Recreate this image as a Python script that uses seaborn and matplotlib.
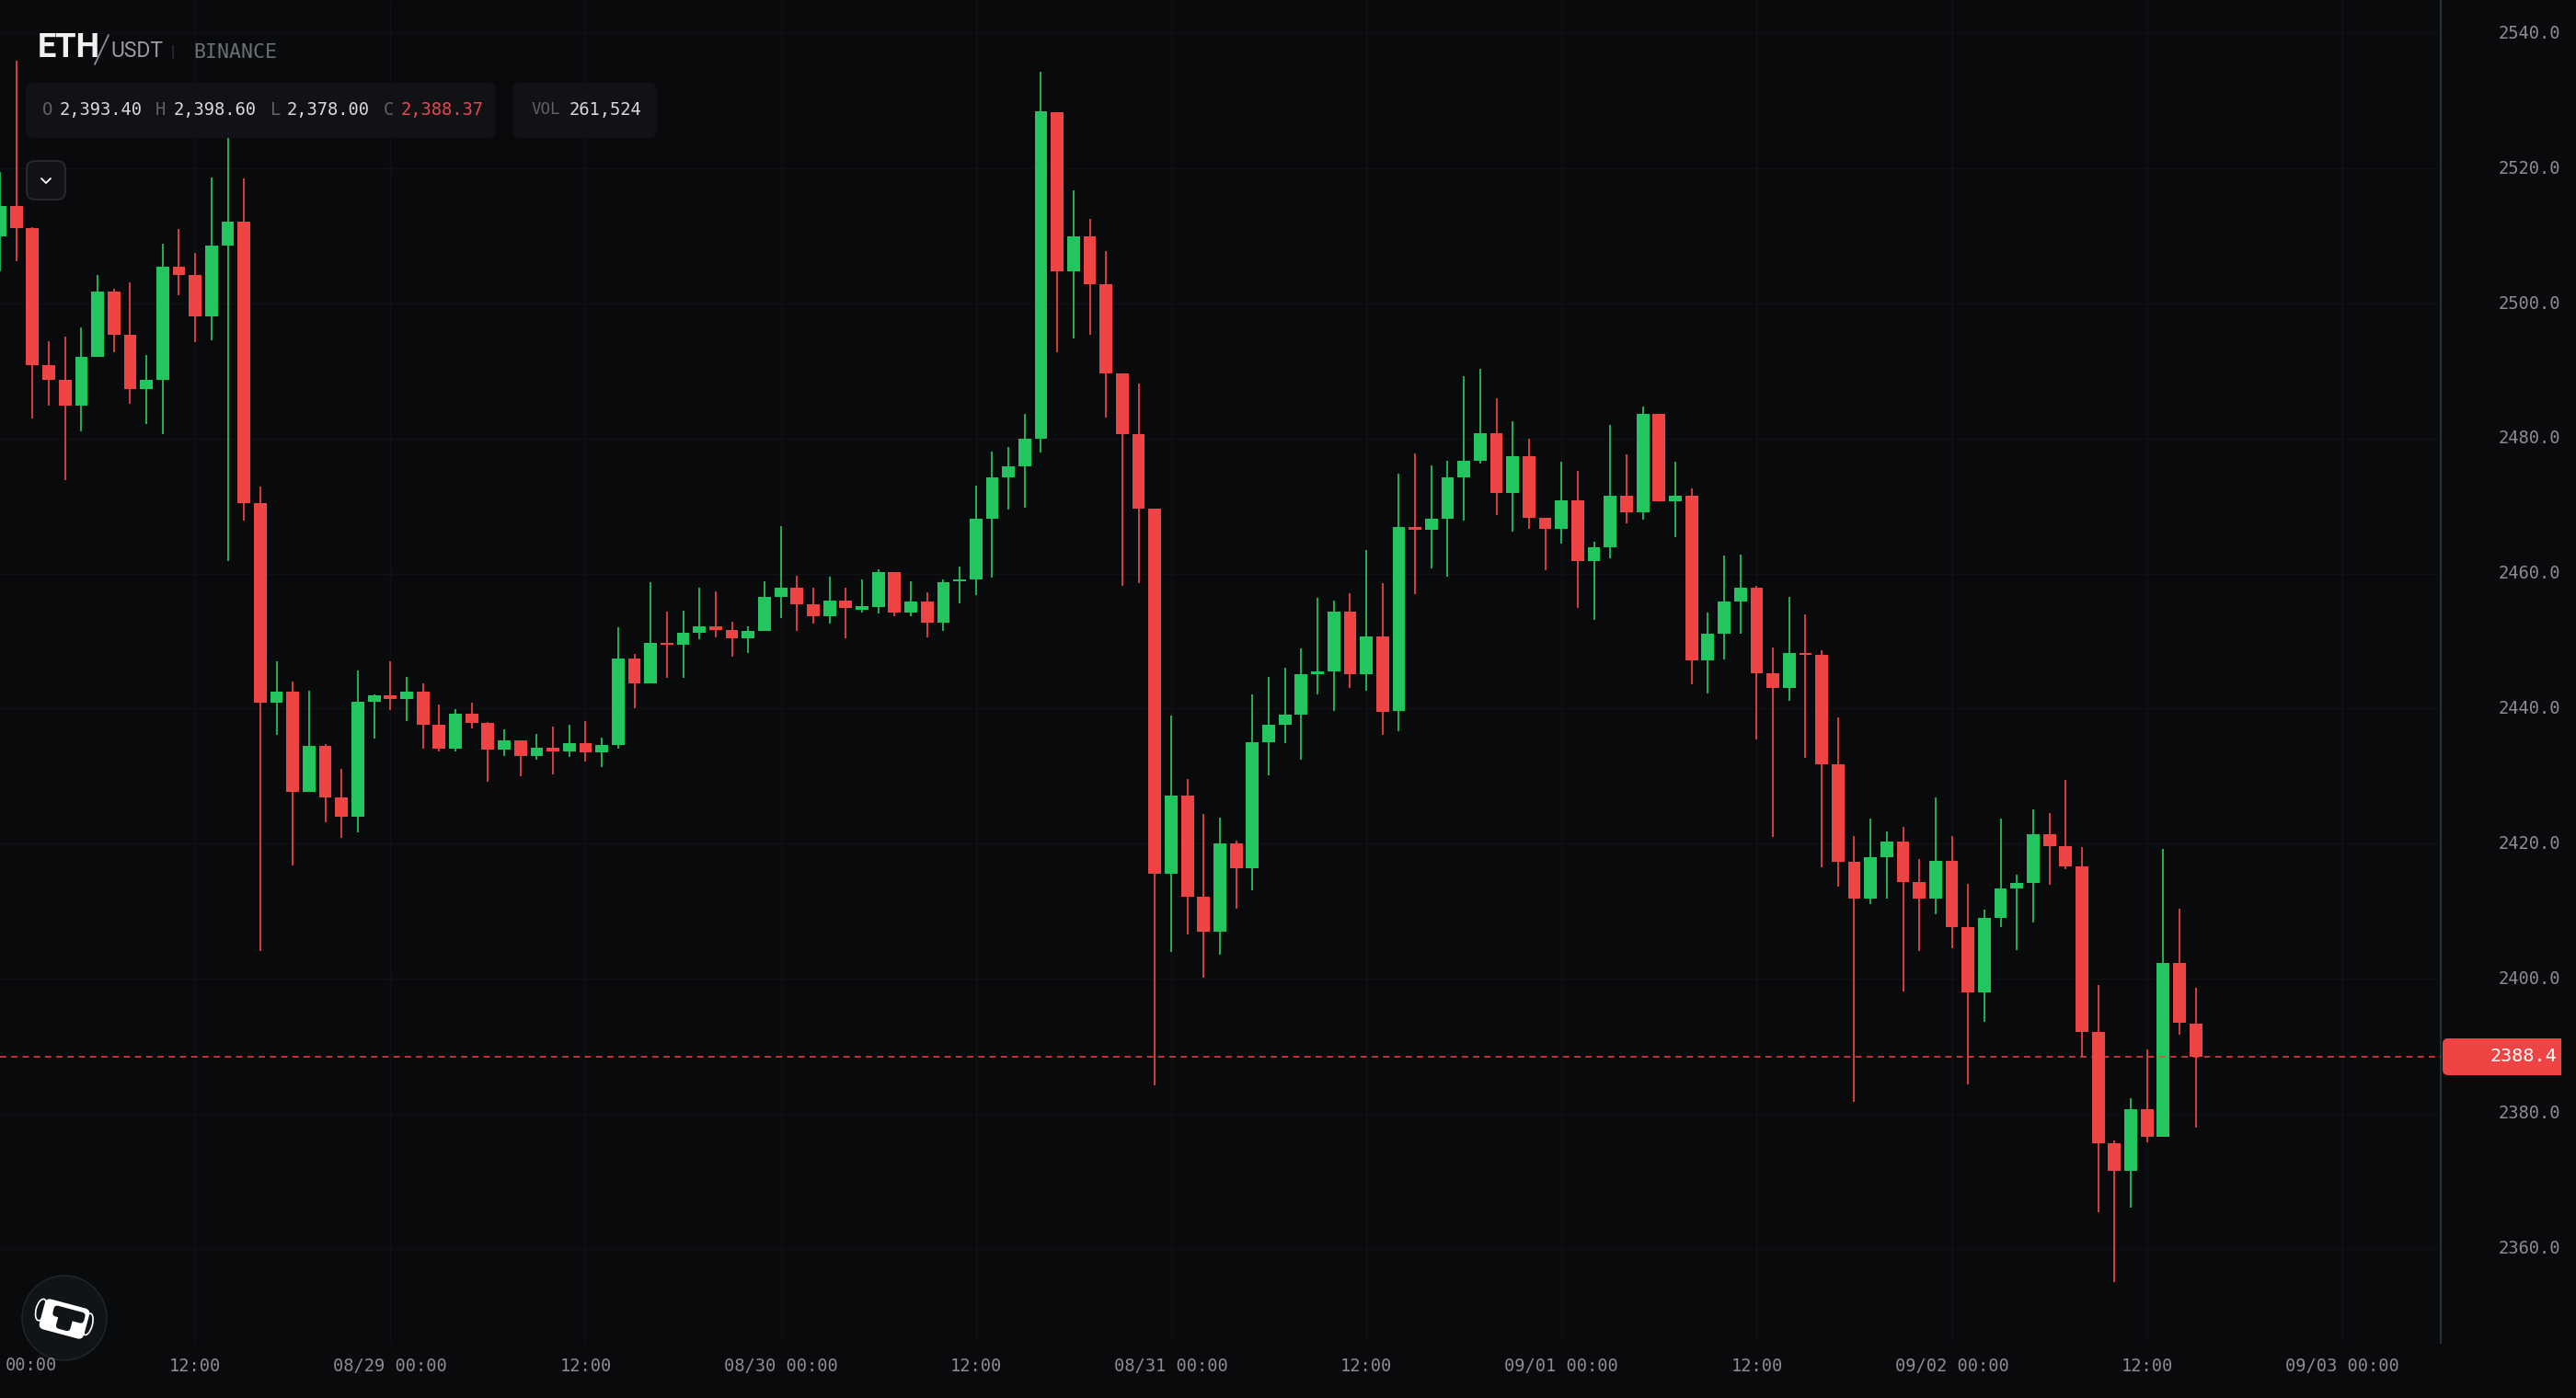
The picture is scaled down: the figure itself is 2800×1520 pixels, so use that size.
import numpy as np
import pandas as pd
import seaborn as sns
import matplotlib.pyplot as plt
from matplotlib import font_manager
from matplotlib.lines import Line2D
from matplotlib.patches import Circle, Ellipse, FancyBboxPatch, PathPatch
from matplotlib.path import Path
from matplotlib.ticker import FormatStrFormatter
from matplotlib.transforms import Affine2D, ScaledTranslation

# -----------------------------------------------------------------------------
# Data (hourly candles, hour 0 = 08/28 00:00)
# -----------------------------------------------------------------------------

opens = [
    2509.9, 2514.5, 2511.2, 2490.9, 2488.7, 2484.9, 2492.1, 2501.8, 2495.4, 2487.4,
    2488.7, 2505.5, 2504.3, 2498.1, 2508.6, 2512.1, 2470.5, 2440.9, 2442.5, 2427.6,
    2434.5, 2426.8, 2424.0, 2441.0, 2442.0, 2441.4, 2442.5, 2437.6, 2434.1, 2439.2,
    2437.9, 2434.0, 2435.3, 2433.0, 2434.2, 2433.7, 2434.9, 2433.5, 2434.6, 2447.4,
    2443.7, 2449.7, 2449.5, 2451.2, 2452.2, 2451.6, 2450.4, 2451.5, 2456.6, 2457.9,
    2455.5, 2453.7, 2456.0, 2454.6, 2455.1, 2460.2, 2454.2, 2455.9, 2452.7, 2458.8,
    2459.1, 2468.1, 2474.2, 2475.9, 2480.0, 2528.4, 2504.8, 2509.9, 2502.9, 2489.7,
    2480.7, 2469.6, 2415.5, 2427.1, 2412.1, 2406.9, 2420.0, 2416.4, 2435.0, 2437.6,
    2439.1, 2445.1, 2445.5, 2454.4, 2445.1, 2450.7, 2439.7, 2466.9, 2466.5, 2468.1,
    2474.3, 2476.7, 2480.8, 2471.9, 2477.4, 2468.3, 2466.6, 2470.9, 2461.9, 2463.9,
    2471.5, 2469.1, 2483.7, 2470.7, 2471.5, 2447.2, 2451.1, 2455.9, 2457.9, 2445.2,
    2443.1, 2448.3, 2447.9, 2431.8, 2417.3, 2411.9, 2418.0, 2420.3, 2414.3, 2411.9,
    2417.4, 2407.6, 2398.0, 2409.0, 2413.3, 2414.2, 2421.4, 2419.6, 2416.6, 2392.1,
    2375.6, 2371.5, 2380.6, 2376.6, 2402.3, 2393.4,
]
closes = [
    2514.5, 2511.2, 2490.9, 2488.7, 2484.9, 2492.1, 2501.8, 2495.4, 2487.4, 2488.7,
    2505.5, 2504.3, 2498.1, 2508.6, 2512.1, 2470.5, 2440.9, 2442.5, 2427.6, 2434.5,
    2426.8, 2424.0, 2441.0, 2442.0, 2441.4, 2442.5, 2437.6, 2434.1, 2439.2, 2437.9,
    2434.0, 2435.3, 2433.0, 2434.2, 2433.7, 2434.9, 2433.5, 2434.6, 2447.4, 2443.7,
    2449.7, 2449.4, 2451.2, 2452.2, 2451.7, 2450.4, 2451.5, 2456.6, 2457.9, 2455.5,
    2453.7, 2456.0, 2454.9, 2455.2, 2460.2, 2454.2, 2455.9, 2452.7, 2458.7, 2459.1,
    2468.1, 2474.2, 2475.9, 2480.0, 2528.5, 2504.8, 2509.9, 2502.9, 2489.7, 2480.7,
    2469.6, 2415.5, 2427.1, 2412.1, 2406.9, 2420.0, 2416.4, 2435.0, 2437.6, 2439.1,
    2445.1, 2445.5, 2454.4, 2445.1, 2450.7, 2439.5, 2466.9, 2466.5, 2468.1, 2474.3,
    2476.7, 2480.8, 2471.9, 2477.4, 2468.3, 2466.6, 2470.9, 2461.9, 2463.9, 2471.5,
    2469.1, 2483.7, 2470.7, 2471.5, 2447.2, 2451.1, 2455.9, 2457.9, 2445.2, 2443.1,
    2448.3, 2447.9, 2431.8, 2417.3, 2411.9, 2418.0, 2420.3, 2414.3, 2411.9, 2417.4,
    2407.6, 2398.0, 2409.0, 2413.3, 2414.2, 2421.4, 2419.6, 2416.6, 2392.1, 2375.6,
    2371.5, 2380.6, 2376.6, 2402.3, 2393.5, 2388.4,
]
highs = [
    2519.5, 2536.0, 2511.3, 2494.4, 2495.1, 2496.5, 2504.3, 2502.2, 2503.1, 2492.4,
    2508.9, 2511.0, 2507.5, 2518.7, 2524.5, 2518.5, 2472.9, 2447.0, 2444.0, 2442.6,
    2434.8, 2431.1, 2445.7, 2442.1, 2447.0, 2444.7, 2443.8, 2440.6, 2439.9, 2440.9,
    2438.0, 2437.0, 2435.3, 2436.3, 2437.3, 2437.6, 2438.2, 2435.7, 2452.0, 2448.1,
    2458.7, 2454.4, 2454.5, 2457.9, 2457.3, 2452.9, 2452.2, 2458.9, 2467.0, 2459.7,
    2457.9, 2459.5, 2457.9, 2459.1, 2460.6, 2460.2, 2458.9, 2457.2, 2459.1, 2461.0,
    2473.0, 2478.1, 2478.8, 2483.7, 2534.4, 2528.4, 2516.8, 2512.6, 2507.8, 2489.7,
    2488.2, 2469.6, 2439.0, 2429.6, 2424.4, 2423.8, 2420.4, 2442.1, 2444.7, 2446.0,
    2448.9, 2456.4, 2456.0, 2457.1, 2463.5, 2458.6, 2474.8, 2477.8, 2476.0, 2476.7,
    2489.2, 2490.3, 2486.0, 2482.6, 2480.0, 2468.3, 2476.6, 2475.2, 2464.7, 2482.0,
    2477.7, 2484.8, 2483.7, 2476.6, 2472.6, 2454.2, 2462.7, 2462.8, 2458.2, 2449.0,
    2456.6, 2453.9, 2448.7, 2438.7, 2421.1, 2423.7, 2421.8, 2422.5, 2417.7, 2426.9,
    2421.1, 2414.0, 2410.2, 2423.7, 2415.4, 2425.1, 2424.5, 2429.5, 2419.5, 2399.1,
    2376.0, 2382.3, 2389.5, 2419.2, 2410.3, 2398.6,
]
lows = [
    2504.8, 2506.3, 2483.0, 2484.9, 2473.8, 2481.1, 2492.1, 2492.8, 2485.2, 2482.1,
    2480.7, 2501.3, 2494.3, 2494.6, 2461.8, 2467.8, 2404.1, 2436.1, 2416.8, 2427.6,
    2423.2, 2420.9, 2421.7, 2435.6, 2439.8, 2438.2, 2434.1, 2433.7, 2433.7, 2437.1,
    2429.1, 2433.0, 2430.0, 2432.5, 2430.3, 2432.8, 2432.2, 2431.3, 2434.1, 2440.0,
    2443.7, 2444.5, 2444.5, 2450.3, 2450.5, 2447.7, 2448.2, 2451.5, 2453.4, 2451.5,
    2452.6, 2452.6, 2450.4, 2454.2, 2454.1, 2453.7, 2453.7, 2450.6, 2451.5, 2455.6,
    2456.8, 2459.4, 2469.5, 2469.8, 2477.9, 2492.8, 2494.8, 2495.4, 2483.1, 2458.2,
    2458.6, 2384.2, 2403.9, 2406.5, 2400.1, 2403.5, 2410.3, 2413.1, 2430.1, 2434.9,
    2432.4, 2442.1, 2439.7, 2443.0, 2442.6, 2436.1, 2436.6, 2456.9, 2460.8, 2459.5,
    2467.9, 2476.3, 2468.7, 2466.2, 2466.6, 2460.5, 2464.5, 2454.9, 2453.1, 2462.3,
    2467.4, 2468.0, 2470.7, 2465.4, 2443.6, 2442.2, 2447.3, 2451.1, 2435.4, 2421.0,
    2441.1, 2432.7, 2416.5, 2413.7, 2381.7, 2411.0, 2411.9, 2398.1, 2404.1, 2409.6,
    2404.5, 2384.3, 2393.6, 2407.6, 2404.3, 2408.3, 2413.9, 2416.2, 2388.4, 2365.4,
    2355.1, 2366.1, 2375.8, 2376.6, 2391.7, 2378.0,
]

last_price = 2388.37
price_ticks = [2360, 2380, 2400, 2420, 2440, 2460, 2480, 2500, 2520, 2540]
hour_ticks = [12, 24, 36, 48, 60, 72, 84, 96, 108, 120, 132, 144]
hour_labels = [
    "12:00", "08/29 00:00", "12:00", "08/30 00:00", "12:00", "08/31 00:00",
    "12:00", "09/01 00:00", "12:00", "09/02 00:00", "12:00", "09/03 00:00",
]
first_label = "00:00"

# header: (label, value) pairs
ohlc_labels = ["O", "H", "L", "C"]
ohlc_values = ["2,393.40", "2,398.60", "2,378.00", "2,388.37"]
volume_value = "261,524"

# -----------------------------------------------------------------------------
# Style
# -----------------------------------------------------------------------------

BG = "#090a0c"
GREEN = "#22c55e"
RED = "#ef4444"
GRID = "#101114"
MUTED = "#8b8d92"
PANEL = "#111215"
MONO = "DejaVu Sans Mono"

installed = {f.name for f in font_manager.fontManager.ttflist}
NARROW = "Liberation Sans Narrow" if "Liberation Sans Narrow" in installed else "Roboto"
print(NARROW)

sns.set_theme(
    style="darkgrid",
    rc={
        "figure.facecolor": BG,
        "axes.facecolor": BG,
        "grid.color": GRID,
        "grid.linewidth": 1.0,
    },
)
plt.rcParams["font.family"] = [MONO, "DejaVu Sans"]

fig = plt.figure(figsize=(28, 15.2), dpi=100)
ax = fig.add_axes([0, 60 / 1520, 2653 / 2800, 1460 / 1520])

# -----------------------------------------------------------------------------
# Candles
# -----------------------------------------------------------------------------

df = pd.DataFrame({"open": opens, "high": highs, "low": lows, "close": closes})
df["hour"] = df.index
df["up"] = df["close"] >= df["open"]
df["body_low"] = df[["open", "close"]].min(axis=1)
df["body_height"] = (df["close"] - df["open"]).abs()

wicks = df.melt(id_vars=["hour", "up"], value_vars=["low", "high"], value_name="price")
sns.lineplot(
    data=wicks,
    x="hour",
    y="price",
    units="hour",
    hue="up",
    palette={True: GREEN, False: RED},
    estimator=None,
    errorbar=None,
    legend=False,
    linewidth=1.45,
    alpha=0.88,
    solid_capstyle="butt",
    ax=ax,
)

for is_up, color in [(True, GREEN), (False, RED)]:
    part = df[df["up"] == is_up]
    sns.barplot(
        x=part["hour"].to_numpy(),
        y=part["body_height"].to_numpy(),
        bottom=part["body_low"].to_numpy(),
        native_scale=True,
        width=0.78,
        color=color,
        saturation=1,
        errorbar=None,
        linewidth=0,
        zorder=3,
        ax=ax,
    )

ax.axhline(last_price, color=RED, linewidth=1.1, dashes=(4.5, 3.5), zorder=4)

# -----------------------------------------------------------------------------
# Axes
# -----------------------------------------------------------------------------

ax.set_xlim(0, 150.06)
ax.set_ylim(2346.06, 2544.97)
ax.set_xlabel("")
ax.set_ylabel("")

ax.yaxis.tick_right()
ax.set_yticks(price_ticks)
ax.yaxis.set_major_formatter(FormatStrFormatter("%.1f"))
ax.tick_params(axis="y", length=0, pad=45, labelsize=13.5, labelcolor=MUTED)
nudge_up = ScaledTranslation(0, 2 / 100, fig.dpi_scale_trans)
for tick_label in ax.get_yticklabels():
    tick_label.set_transform(tick_label.get_transform() + nudge_up)

ax.set_xticks(hour_ticks)
ax.set_xticklabels(hour_labels)
ax.tick_params(axis="x", length=0, pad=11.5, labelsize=13.5, labelcolor=MUTED)

sns.despine(ax=ax, left=True, bottom=True, top=True, right=False)
ax.spines["right"].set_color("#2c2e36")
ax.spines["right"].set_linewidth(1.5)

# -----------------------------------------------------------------------------
# Overlay, in screen pixels from the top left corner
# -----------------------------------------------------------------------------

px = Affine2D().scale(1, -1).translate(0, 1520)


def label(x, y, text, color=MUTED, size=13.5, ha="left", **kwargs):
    fig.text(x, y, text, color=color, fontsize=size, ha=ha, va="center",
             transform=px, **kwargs)


def box(x0, y0, x1, y1, face, edge="none", lw=0, pad=9):
    fig.add_artist(
        FancyBboxPatch(
            (x0 + pad, y0 + pad), x1 - x0 - 2 * pad, y1 - y0 - 2 * pad,
            boxstyle=f"round,pad={pad}", facecolor=face, edgecolor=edge,
            linewidth=lw, transform=px,
        )
    )


label(6, 1484.5, first_label)

# last price tag, rounded on the left side only
box(2655, 1129, 2700, 1169, RED, pad=6)
fig.add_artist(
    PathPatch(Path([(2675, 1129), (2784, 1129), (2784, 1169), (2675, 1169), (2675, 1129)]),
              facecolor=RED, edgecolor="none", transform=px)
)
label(2779, 1148, f"{last_price:.1f}", color="white", size=14.5, ha="right")

# symbol
label(41, 52, "ETH", color="#f0f0f2", size=26, family=NARROW, weight="bold")
fig.add_artist(Line2D([118, 103], [38, 70], color="#8b8d92", linewidth=1.3, transform=px))
label(120, 56, "USDT", color="#9a9ca1", size=16.5, family=NARROW)
label(188, 57, "|", color="#33353a", size=13, ha="center", family="Roboto")
label(210, 57, "BINANCE", color="#6b6e75", size=15.5)

# OHLC and volume panels
box(28, 90, 539, 150, PANEL)
box(557, 90, 714, 150, PANEL)
for x_name, x_value, name, value in zip(
    [46, 169, 294, 417], [65, 189, 312, 436], ohlc_labels, ohlc_values
):
    value_color = "#e5484d" if name == "C" else "#d8d9dc"
    label(x_name, 119.5, name, color="#5f6167")
    label(x_value, 119.5, value, color=value_color)
label(578, 119.5, "VOL", color="#5f6167", size=12.5)
label(619, 119.5, volume_value, color="#d8d9dc")

# collapse button
box(29, 175, 71, 217, PANEL, edge="#26282c", lw=1.5, pad=9)
fig.add_artist(Line2D([45, 50, 55], [194, 199, 194], color="white", linewidth=1.3, transform=px))

# logo
fig.add_artist(Circle((70, 1433), 46, facecolor="#111416", edgecolor="#24272a", linewidth=1, transform=px))
rot = Affine2D().rotate_deg_around(70, 1434, 15) + px
fig.add_artist(Ellipse((43, 1431), 11, 24, facecolor="none", edgecolor="white", linewidth=1.2, transform=rot))
fig.add_artist(Ellipse((96, 1433), 10, 24, facecolor="none", edgecolor="white", linewidth=1.2, transform=rot))
fig.add_artist(FancyBboxPatch((51, 1423), 38, 22, boxstyle="round,pad=6", facecolor="white",
                              edgecolor="none", transform=rot))
fig.add_artist(FancyBboxPatch((60, 1426), 27, 4, boxstyle="round,pad=4", facecolor="#111416",
                              edgecolor="none", transform=rot))
fig.add_artist(FancyBboxPatch((67, 1432), 8, 10, boxstyle="round,pad=4", facecolor="#111416",
                              edgecolor="none", transform=rot))

fig.savefig("out.png", dpi=100, facecolor=BG)
